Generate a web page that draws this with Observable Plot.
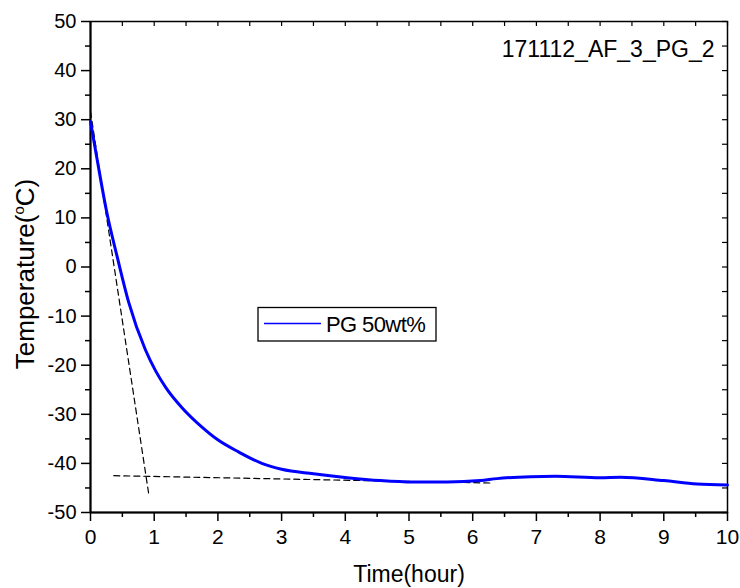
<!DOCTYPE html>
<html><head><meta charset="utf-8">
<script src="https://cdn.jsdelivr.net/npm/d3@7"></script>
<script src="https://cdn.jsdelivr.net/npm/@observablehq/plot@0.6"></script>
<style>
html,body{margin:0;padding:0;background:#fff}
#chart svg{display:block}
</style>
</head><body><div id="chart"></div>
<script>
// ---- data ----
const timeHours   = [0, 0.1, 0.25, 0.43, 0.6, 0.86, 1.02, 1.18, 1.44, 1.75, 2.01, 2.33, 2.69, 3.0, 3.5, 4.03, 4.55, 5.07, 5.6, 6.12, 6.38, 6.91, 7.3, 8.0, 8.32, 9.0, 9.52, 10.0];
const temperature = [29.6, 22.2, 11.5, 1.5, -7.2, -16.8, -21.1, -24.5, -28.7, -32.6, -35.3, -37.7, -40.0, -41.2, -42.1, -42.9, -43.5, -43.8, -43.8, -43.5, -43.1, -42.7, -42.6, -42.9, -42.8, -43.5, -44.2, -44.4];

const tangentX  = [0, 0.915];
const tangentY  = [31.7, -46.3];
const baselineX = [0.366, 6.28];
const baselineY = [-42.5, -44.0];

const xDomain = [0, 10];
const yDomain = [-50, 50];
const xTicks = [0,1,2,3,4,5,6,7,8,9,10];
const xMinorTicks = [0.5,1.5,2.5,3.5,4.5,5.5,6.5,7.5,8.5,9.5];
const yTicks = [-50,-40,-30,-20,-10,0,10,20,30,40,50];
const yMinorTicks = [-45,-35,-25,-15,-5,5,15,25,35,45];
const xAllTicks = xTicks.concat(xMinorTicks);
const yAllTicks = yTicks.concat(yMinorTicks);

const seriesName = "PG 50wt%";
const annotation = "171112_AF_3_PG_2";
const xTitle = "Time(hour)";
const yTitle = "Temperature(\u00B0C)";

// ---- build ----
const W = 740, H = 588, mL = 90, mR = 13, mT = 21, mB = 76;
const frameW = W - mL - mR, frameH = H - mT - mB;

const data = timeHours.map((t, i) => ({t, T: temperature[i]}));
const tangent = tangentX.map((t, i) => ({t, T: tangentY[i]}));
const baseline = baselineX.map((t, i) => ({t, T: baselineY[i]}));
const fmt = d => String(d);

const chart = Plot.plot({
  width: W, height: H,
  marginLeft: mL, marginRight: mR, marginTop: mT, marginBottom: mB,
  style: {fontFamily: "'Liberation Sans', Arial, sans-serif", background: "#fff", color: "#000", overflow: "visible"},
  x: {domain: xDomain},
  y: {domain: yDomain},
  marks: [
    Plot.frame({stroke: "#000", strokeWidth: 1.5}),
    Plot.ruleX([xDomain[0]], {stroke: "#000", strokeWidth: 2}),
    Plot.ruleY([yDomain[0]], {stroke: "#000", strokeWidth: 2}),
    // outward ticks, left
    Plot.tickY(yMinorTicks, {y: d => d, insetLeft: -5, insetRight: frameW, stroke: "#000", strokeWidth: 1.5}),
    Plot.tickY(yTicks, {y: d => d, insetLeft: -9, insetRight: frameW, stroke: "#000", strokeWidth: 1.5}),
    // outward ticks, bottom
    Plot.tickX(xMinorTicks, {x: d => d, insetTop: frameH, insetBottom: -5, stroke: "#000", strokeWidth: 1.5}),
    Plot.tickX(xTicks, {x: d => d, insetTop: frameH, insetBottom: -9, stroke: "#000", strokeWidth: 1.5}),
    // inward ticks, top and right
    Plot.tickX(xAllTicks, {x: d => d, insetBottom: frameH - 5, stroke: "#000", strokeWidth: 1.2}),
    Plot.tickY(yAllTicks, {y: d => d, insetLeft: frameW - 5, stroke: "#000", strokeWidth: 1.2}),
    // tick labels
    Plot.axisY(yTicks, {tickSize: 0, tickPadding: 14, fontSize: 20, label: null, tickFormat: fmt}),
    Plot.axisX(xTicks, {tickSize: 0, tickPadding: 17, fontSize: 21, label: null, tickFormat: fmt}),
    Plot.line(tangent, {x: "t", y: "T", stroke: "#000", strokeWidth: 1.2, strokeDasharray: "6,4"}),
    Plot.line(baseline, {x: "t", y: "T", stroke: "#000", strokeWidth: 1.2, strokeDasharray: "6,4"}),
    Plot.line(data, {x: "t", y: "T", stroke: "#0000ff", strokeWidth: 3, curve: "monotone-x"}),
    Plot.text([annotation], {frameAnchor: "top-right", textAnchor: "end", lineAnchor: "middle", dx: -13, dy: 28, fontSize: 23}),
    Plot.text([xTitle], {frameAnchor: "bottom", textAnchor: "middle", lineAnchor: "middle", dy: 62, fontSize: 23}),
    Plot.text([yTitle], {frameAnchor: "left", textAnchor: "middle", lineAnchor: "middle", rotate: -90, dx: -65, dy: 7, fontSize: 26})
  ]
});

// superscript "o" in the y title
d3.select(chart).selectAll("text").each(function() {
  if (this.textContent === yTitle) {
    const t = d3.select(this);
    t.text(null);
    t.append("tspan").text("Temperature(");
    t.append("tspan").style("font-size", "15px").attr("dy", -10).text("o");
    t.append("tspan").attr("dy", 10).text("C)");
  }
});

// legend box
const leg = d3.select(chart).append("g");
leg.append("rect").attr("x", 258).attr("y", 307.5).attr("width", 178).attr("height", 33.5)
  .attr("fill", "#fff").attr("stroke", "#000").attr("stroke-width", 1.3);
leg.append("line").attr("x1", 264).attr("x2", 321).attr("y1", 323.5).attr("y2", 323.5)
  .attr("stroke", "#0000ff").attr("stroke-width", 1.5);
leg.append("text").attr("x", 326).attr("y", 331.5).attr("text-anchor", "start")
  .style("font-size", "22px").style("letter-spacing", "-0.6px").attr("fill", "#000").text(seriesName);

document.getElementById("chart").appendChild(chart);
</script>
</body></html>
